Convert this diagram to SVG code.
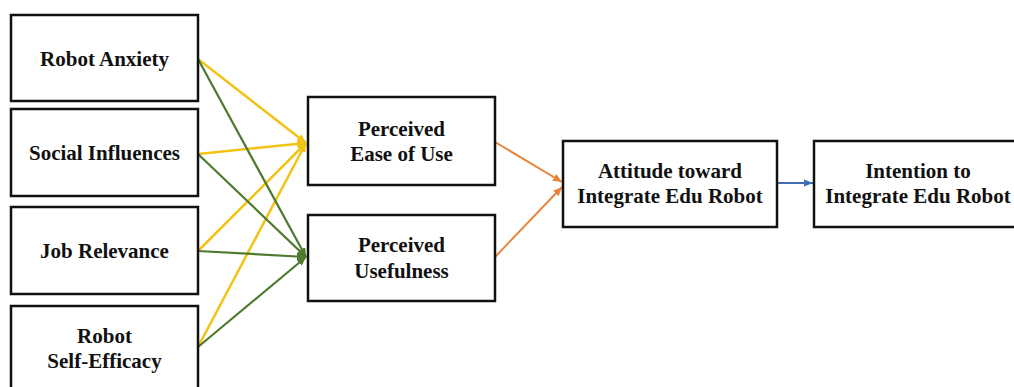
<svg xmlns="http://www.w3.org/2000/svg" width="1014" height="387" viewBox="0 0 1014 387">
<style>
.box{fill:#fff;stroke:#111;stroke-width:2.5}
.t{font-family:"Liberation Serif","Times New Roman",serif;font-weight:bold;font-size:21px;fill:#111;text-anchor:middle}
.y{stroke:#F2C314;stroke-width:2.5;fill:none}
.g{stroke:#4E7A2E;stroke-width:2.2;fill:none}
.o{stroke:#E8843A;stroke-width:2;fill:none}
.b{stroke:#3F6DB5;stroke-width:2;fill:none}
</style>
<defs>
<marker id="ay" markerUnits="userSpaceOnUse" markerWidth="10" markerHeight="10" refX="9" refY="5" orient="auto"><path d="M0,1 L9,5 L0,9 Z" fill="#F2C314"/></marker>
<marker id="ag" markerUnits="userSpaceOnUse" markerWidth="10" markerHeight="10" refX="9" refY="5" orient="auto"><path d="M0,1 L9,5 L0,9 Z" fill="#4E7A2E"/></marker>
<marker id="ao" markerUnits="userSpaceOnUse" markerWidth="10" markerHeight="10" refX="9" refY="5" orient="auto"><path d="M0,1 L9,5 L0,9 Z" fill="#E8843A"/></marker>
<marker id="ab" markerUnits="userSpaceOnUse" markerWidth="10" markerHeight="10" refX="9" refY="5" orient="auto"><path d="M0,1.5 L9,5 L0,8.5 Z" fill="#3F6DB5"/></marker>
</defs>
<g id="connectors">
<line class="y" x1="198" y1="59" x2="306" y2="143" marker-end="url(#ay)"/>
<line class="y" x1="198" y1="154" x2="306" y2="143" marker-end="url(#ay)"/>
<line class="y" x1="198" y1="251" x2="306" y2="143" marker-end="url(#ay)"/>
<line class="y" x1="198" y1="347" x2="306" y2="143" marker-end="url(#ay)"/>
<line class="g" x1="198" y1="59" x2="306" y2="257" marker-end="url(#ag)"/>
<line class="g" x1="198" y1="154" x2="306" y2="257" marker-end="url(#ag)"/>
<line class="g" x1="198" y1="251" x2="306" y2="257" marker-end="url(#ag)"/>
<line class="g" x1="198" y1="347" x2="306" y2="257" marker-end="url(#ag)"/>
<line class="o" x1="495" y1="142" x2="562" y2="182" marker-end="url(#ao)"/>
<line class="o" x1="495" y1="257" x2="562" y2="187" marker-end="url(#ao)"/>
<line class="b" x1="777" y1="183" x2="813" y2="183" marker-end="url(#ab)"/>
</g>
<g id="robot-anxiety"><rect class="box" x="11" y="15" width="187" height="86"/><text class="t" x="104.5" y="66">Robot Anxiety</text></g>
<g id="social-influences"><rect class="box" x="11" y="109" width="187" height="87"/><text class="t" x="104.5" y="160">Social Influences</text></g>
<g id="job-relevance"><rect class="box" x="11" y="207" width="187" height="87"/><text class="t" x="104.5" y="258">Job Relevance</text></g>
<g id="robot-self-efficacy"><rect class="box" x="11" y="306" width="187" height="95"/><text class="t" x="104.5" y="343">Robot</text><text class="t" x="104.5" y="368">Self-Efficacy</text></g>
<g id="perceived-ease"><rect class="box" x="308" y="97" width="187" height="88"/><text class="t" x="401.5" y="136">Perceived</text><text class="t" x="401.5" y="161">Ease of Use</text></g>
<g id="perceived-usefulness"><rect class="box" x="308" y="215" width="187" height="86"/><text class="t" x="401.5" y="252">Perceived</text><text class="t" x="401.5" y="278">Usefulness</text></g>
<g id="attitude"><rect class="box" x="563" y="141" width="214" height="86"/><text class="t" x="670" y="178">Attitude toward</text><text class="t" x="670" y="203">Integrate Edu Robot</text></g>
<g id="intention"><rect class="box" x="814" y="141" width="214" height="86"/><text class="t" x="918" y="178">Intention to</text><text class="t" x="918" y="203">Integrate Edu Robot</text></g>
</svg>
